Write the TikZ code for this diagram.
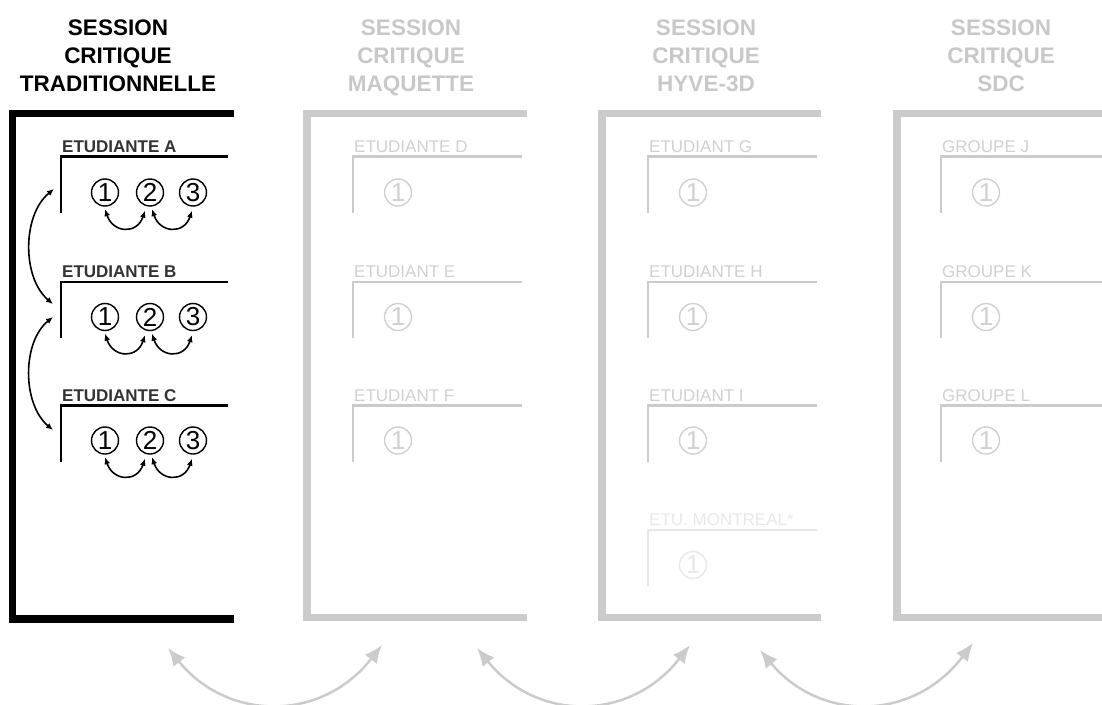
\documentclass[tikz,border=0pt]{standalone}
\usepackage{fontspec}
\setmainfont{Liberation Sans}
\usetikzlibrary{arrows.meta,calc}
\definecolor{fg}{HTML}{CBCBCB}
\definecolor{tg}{HTML}{C8C8C8}
\definecolor{lg}{HTML}{D0D0D0}
\definecolor{mg}{HTML}{E8E8E8}
\definecolor{dk}{HTML}{333333}
\newcommand\studblock[7]{%
  \draw[brk,#6] (#4,#3) -- (#2,#3) -- (#2,#3+56);
  \node[lbl,#7] (#1l) at (#2+1,#3-4.5) {#5};
}
\begin{document}
\begin{tikzpicture}[x=1pt,y=-1pt,
  title/.style={align=center, font=\fontsize{22.5}{28}\selectfont\bfseries, inner sep=0pt, anchor=north},
  frm/.style={line width=7.5pt, line join=miter},
  brk/.style={line width=2.6pt, line join=miter},
  lbl/.style={anchor=base west, inner sep=0pt, font=\fontsize{17}{17}\selectfont},
  num/.style={circle, draw, line width=1.4pt, minimum size=27pt, inner sep=0pt, font=\fontsize{26}{26}\selectfont},
  sarr/.style={line width=1.6pt, {Latex[length=7pt,width=6pt]}-{Latex[length=7pt,width=6pt]}},
  barr/.style={draw=fg, line width=2.5pt, {Latex[length=18pt,width=15pt]}-{Latex[length=18pt,width=15pt]}}
]
\useasboundingbox (0,0) rectangle (1102,704);

% frames
\draw[frm] (234,113.5) -- (12.5,113.5) -- (12.5,619) -- (234,619);
\draw[frm,fg] (527,113.5) -- (307,113.5) -- (307,617.5) -- (527,617.5);
\draw[frm,fg] (821,113.5) -- (602,113.5) -- (602,617.5) -- (821,617.5);
\draw[frm,fg] (1102,113.5) -- (897,113.5) -- (897,617.5) -- (1102,617.5);

% titles
\node[title] (t1) at (118,19.5) {SESSION\\CRITIQUE\\TRADITIONNELLE};
\node[title,tg] (t2) at (411,19.5) {SESSION\\CRITIQUE\\MAQUETTE};
\node[title,tg] (t3) at (706,19.5) {SESSION\\CRITIQUE\\HYVE-3D};
\node[title,tg] (t4) at (1001,19.5) {SESSION\\CRITIQUE\\SDC};

% frame 1 blocks
\studblock{A}{61}{156.5}{228}{ETUDIANTE A}{black}{dk,font=\fontsize{17}{17}\selectfont\bfseries}
\studblock{B}{61}{282}{228}{ETUDIANTE B}{black}{dk,font=\fontsize{17}{17}\selectfont\bfseries}
\studblock{C}{61}{405.5}{228}{ETUDIANTE C}{black}{dk,font=\fontsize{17}{17}\selectfont\bfseries}
\foreach \r/\yy in {A/192.5, B/317, C/440.5}{
  \node[num] (\r1) at (105,\yy) {1};
  \node[num] (\r2) at (150,\yy) {2};
  \node[num] (\r3) at (193,\yy) {3};
  \draw[sarr] ($(\r1.south)+(0,2.5)$) .. controls +(8,24) and +(-8,24) .. ($(\r2.south)+(-5,4)$);
  \draw[sarr] ($(\r2.south)+(2,2.5)$) .. controls +(8,24) and +(-8,24) .. ($(\r3.south)+(-1,4)$);
}
\coordinate (ab1) at (54,189);
\coordinate (ab2) at (53,304);
\coordinate (bc1) at (53,317);
\coordinate (bc2) at (53,430);
\draw[sarr] (ab1) .. controls (22,215) and (22,278) .. (ab2);
\draw[sarr] (bc1) .. controls (22,342) and (22,404) .. (bc2);

% frame 2
\studblock{D}{353}{156.5}{522}{ETUDIANTE D}{fg}{lg}
\studblock{E}{353}{282}{522}{ETUDIANT E}{fg}{lg}
\studblock{F}{353}{405.5}{522}{ETUDIANT F}{fg}{lg}
% frame 3
\studblock{G}{648}{156.5}{817}{ETUDIANT G}{fg}{lg}
\studblock{H}{648}{282}{817}{ETUDIANTE H}{fg}{lg}
\studblock{I}{648}{405.5}{817}{ETUDIANT I}{fg}{lg}
\studblock{M}{648}{530}{817}{ETU. MONTREAL*}{mg}{mg}
% frame 4
\studblock{J}{941}{156.5}{1102}{GROUPE J}{fg}{lg}
\studblock{K}{941}{282}{1102}{GROUPE K}{fg}{lg}
\studblock{L}{941}{405.5}{1102}{GROUPE L}{fg}{lg}
\foreach \r/\xx/\yy in {D/398/192.5, E/398/317, F/398/440.5, G/693/192.5, H/693/317, I/693/440.5, J/986/192.5, K/986/317, L/986/440.5}{
  \node[num,draw=lg,text=lg] (\r1) at (\xx,\yy) {1};
}
\node[num,draw=mg,text=mg] (M1) at (693,565) {1};

% bottom arrows
\coordinate (p1) at (168,648); \coordinate (q1) at (382,645);
\coordinate (p2) at (477,648); \coordinate (q2) at (690,645);
\coordinate (p3) at (760,650); \coordinate (q3) at (973,643);
\draw[barr] (p1) .. controls (228,722) and (322,722) .. (q1);
\draw[barr] (p2) .. controls (537,722) and (630,722) .. (q2);
\draw[barr] (p3) .. controls (820,722) and (913,722) .. (q3);
\end{tikzpicture}
\end{document}
